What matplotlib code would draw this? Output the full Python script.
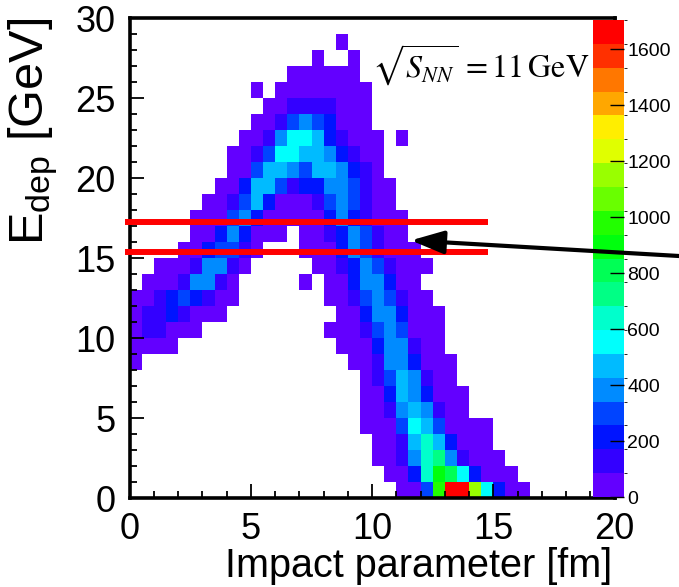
import colorsys
import numpy as np
import matplotlib
matplotlib.use("Agg")
import matplotlib.pyplot as plt
from matplotlib.colors import ListedColormap, BoundaryNorm
from matplotlib.patches import ConnectionPatch
from matplotlib.ticker import MultipleLocator

plt.rcParams["font.family"] = ["Liberation Sans", "DejaVu Sans"]
plt.rcParams["mathtext.fontset"] = "custom"
plt.rcParams["mathtext.rm"] = "Liberation Sans"
plt.rcParams["mathtext.it"] = "Liberation Sans:italic"

# histogram binning
x_edges = np.linspace(0, 20, 41)   # impact parameter, 0.5 fm bins
y_edges = np.linspace(0, 30, 31)   # deposited energy, 1 GeV bins
z_max = 1705.0
n_levels = 20
cbar_ticks = [0, 200, 400, 600, 800, 1000, 1200, 1400, 1600]

# colour level of every filled bin.
# one entry per 1 GeV row (bottom row first): (first 0.5 fm bin, levels)
# levels: 0-9 then a-j (10-19), '.' = empty bin
rows = [
    [(22, "003bjjd6200")],
    [(21, "0027a962000")],
    [(20, "00147841000")],
    [(20, "0015752000")],
    [(19, "00036530000")],
    [(19, "001454100")],
    [(19, "002542000")],
    [(19, "01354100")],
    [(0, "0"), (18, "001442000")],
    [(0, "0000"), (17, "000244100")],
    [(0, "011000"), (16, "0001343000")],
    [(0, "01121000"), (17, "002442000")],
    [(0, "001232100"), (16, "001343100")],
    [(1, "00014410"), (14, "0"), (16, "00244200")],
    [(2, "00014410"), (15, "0012431000")],
    [(4, "0023310"), (14, "0002431000")],
    [(5, "00242000"), (14, "001243100")],
    [(5, "0003420"), (12, "0000"), (16, "2421000")],
    [(6, "001352"), (12, "000"), (15, "1343100")],
    [(7, "002553122443100")],
    [(8, "0035543554210")],
    [(8, "0013665542100")],
    [(9, "001466521000"), (22, "0")],
    [(10, "0013432000")],
    [(11, "001111000")],
    [(10, "0"), (12, "00000000")],
    [(13, "000000")],
    [(15, "0"), (18, "0")],
    [(17, "0")],
    [],
]

# marked E_dep window and arrow
band_lo, band_hi = 15.35, 17.25
band_x = (-0.2, 14.8)
arrow_tip = (11.6, 16.1)

codes = "0123456789abcdefghij"
step = z_max / n_levels
z = np.zeros((len(y_edges) - 1, len(x_edges) - 1))
for j, segs in enumerate(rows):
    for start, s in segs:
        for k, ch in enumerate(s):
            if ch != ".":
                z[j, start + k] = (codes.index(ch) + 0.5) * step
z = np.ma.masked_equal(z, 0)

# ROOT "pretty" palette, 20 contour levels
cols = []
for k in range(n_levels):
    idx = int((k + 0.99) * 50 / n_levels)
    hue = 280.0 - (idx + 1) * 280.0 / 50
    cols.append(colorsys.hls_to_rgb(hue / 360.0, 0.5, 1.0))
cmap = ListedColormap(cols)
norm = BoundaryNorm(np.linspace(0, z_max, n_levels + 1), n_levels)

W, H = 679, 587
fig = plt.figure(figsize=(W / 100, H / 100), dpi=100)
ax = fig.add_axes([129.7 / W, 89 / H, 484.8 / W, 480 / H])
mesh = ax.pcolormesh(x_edges, y_edges, z, cmap=cmap, norm=norm)
ax.set_xlim(0, 20)
ax.set_ylim(0, 30)
ax.set_xticks([0, 5, 10, 15, 20])
ax.set_yticks([0, 5, 10, 15, 20, 25, 30])
ax.xaxis.set_minor_locator(MultipleLocator(1))
ax.yaxis.set_minor_locator(MultipleLocator(1))
ax.tick_params(which="both", direction="in", top=False, right=False,
               width=1.3, labelsize=26)
ax.tick_params(which="major", length=10)
ax.tick_params(which="minor", length=5)
ax.tick_params(axis="x", pad=10)
ax.tick_params(axis="y", pad=10)
for sp in ax.spines.values():
    sp.set_linewidth(2.6)

# red lines marking the E_dep window
for yv in (band_lo, band_hi):
    ax.plot(band_x, [yv, yv], color="#ff0000", lw=4.3, clip_on=False,
            solid_capstyle="butt", zorder=5)

cax = fig.add_axes([593.3 / W, 90 / H, 31 / W, 477 / H])
cb = fig.colorbar(mesh, cax=cax, ticks=cbar_ticks)
cb.outline.set_visible(False)
cb.ax.tick_params(direction="in", length=10, width=1.0, labelsize=14, pad=2)

fig.text(612 / W, 2 / H, "Impact parameter [fm]", ha="right", va="bottom",
         fontsize=28.5)
fig.text(33 / W, 1 - 18 / H, r"E$_{\mathrm{dep}}$ [GeV]", ha="center",
         va="top", rotation=90, fontsize=35)
fig.text(372 / W, 1 - 78 / H, r"$\sqrt{S_{NN}}\,=11\,\mathrm{GeV}$",
         ha="left", va="baseline", fontsize=23, math_fontfamily="stix")

con = ConnectionPatch(xyA=(1.0, 1 - 256 / H), coordsA=fig.transFigure,
                      xyB=arrow_tip, coordsB=ax.transData,
                      arrowstyle="-|>,head_length=1.0,head_width=0.35",
                      mutation_scale=20, lw=3, color="black")
fig.add_artist(con)

fig.savefig("out.png", dpi=100)
